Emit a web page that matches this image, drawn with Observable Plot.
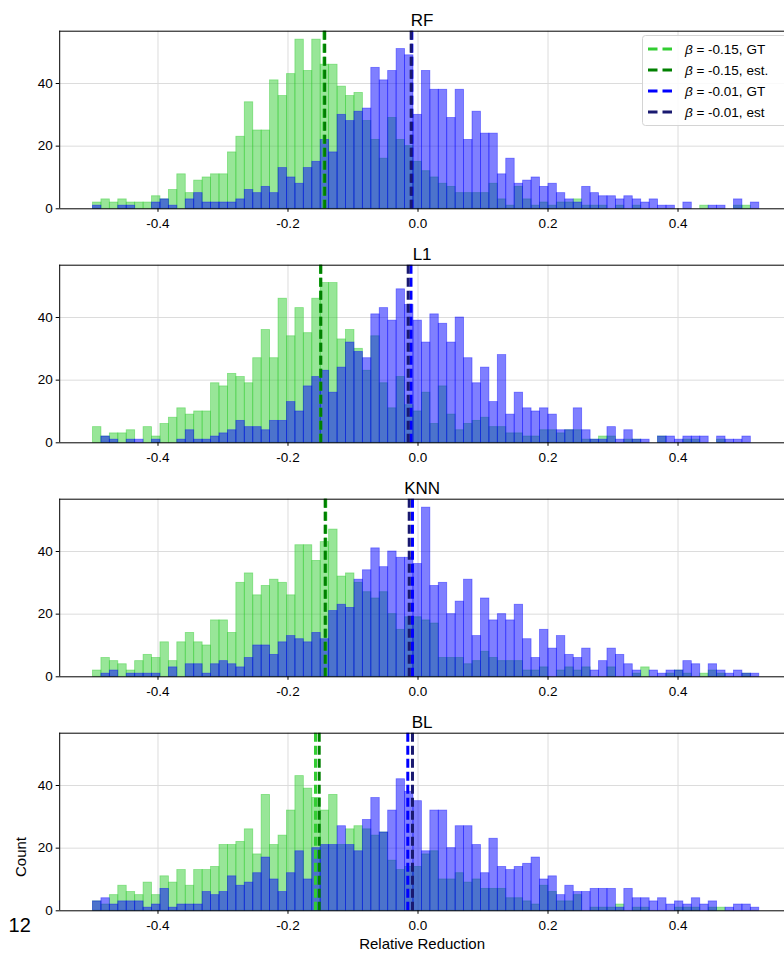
<!DOCTYPE html>
<html><head><meta charset="utf-8">
<script src="https://cdn.jsdelivr.net/npm/d3@7"></script>
<script src="https://cdn.jsdelivr.net/npm/@observablehq/plot@0.6"></script>
<style>
html,body{margin:0;padding:0;background:#fff;}
#chart{width:784px;height:954px;position:relative;overflow:hidden;background:#fff;}
#chart svg{display:block;}
</style></head><body><div id="chart"></div>
<script>
// ---- data ----
const panelNames = ["RF", "L1", "KNN", "BL"];
const binStart = -0.5, binEnd = 0.525, binCount = 79;
const xTicks = [-0.4, -0.2, 0, 0.2, 0.4];
const yTicks = [0, 20, 40];

const greenRF = [2,3,2,3,2,2,2,4,3,6, 11,5,9,10,11,11,18,23,34,25, 25,41,36,43,54,44,54,46,46,39, 36,37,28,22,16,29,22,20,15,12, 10,8,7,5,5,5,5,8,3,1, 7,3,1,2,1,2,2,3,1,1, 1,0,1,0,1,0,0,0,0,0, 0,0,1,0,0,0,1,1,0];
const blueRF  = [1,0,0,1,1,0,0,2,3,1, 0,3,5,2,2,2,2,3,6,5, 7,5,13,10,8,13,15,22,18,30, 28,31,32,45,41,44,51,49,30,44, 38,38,29,38,22,31,24,24,11,16, 8,9,10,7,8,5,3,2,7,5, 4,4,3,4,3,2,3,1,1,0, 2,0,0,1,1,0,3,0,2];

const greenL1 = [5,2,3,3,4,0,5,2,6,8, 11,9,10,10,19,18,22,21,19,27, 36,27,46,34,43,35,46,51,51,33, 36,30,23,34,19,11,21,12,10,16, 6,18,9,4,6,7,8,5,5,3, 3,2,2,4,4,3,4,4,1,1, 2,2,0,1,1,0,0,2,0,0, 1,1,0,0,1,0,0,0,0];
const blueL1  = [0,2,1,0,1,1,0,1,0,0, 1,4,1,1,2,3,4,7,5,5, 4,7,7,13,10,18,21,23,16,24, 32,29,27,41,43,39,49,44,39,32, 41,38,32,40,27,19,24,13,28,9, 16,11,10,11,9,4,4,11,4,1, 1,5,1,4,1,1,0,2,2,1, 2,2,2,0,2,1,1,2,0];

const greenKNN = [2,6,5,4,2,5,7,6,11,5, 11,14,11,10,18,18,14,30,33,26, 29,31,30,26,42,42,37,43,47,32, 33,30,27,25,27,20,15,19,19,18, 17,6,6,6,4,5,8,6,5,5, 5,2,2,3,0,2,3,2,3,0, 0,3,0,0,1,3,0,0,1,2, 1,0,1,2,1,0,0,1,0];
const blueKNN  = [0,1,2,0,1,1,1,1,0,3, 0,4,4,1,4,5,4,3,6,10, 10,7,11,13,12,11,14,12,21,23, 22,31,34,41,35,40,38,38,36,54, 29,30,20,24,31,13,25,18,20,18, 23,12,6,15,9,13,7,6,9,2, 5,9,7,4,2,0,2,1,2,2, 5,4,0,4,2,1,2,1,1];

const greenBL = [3,2,5,8,6,5,9,5,11,9, 13,8,13,13,14,21,21,22,26,18, 37,21,24,32,43,39,36,32,37,21, 26,27,26,24,25,16,13,14,14,18, 19,10,10,12,9,10,7,7,7,4, 4,3,2,8,6,3,3,5,0,1, 1,1,2,0,1,1,0,0,0,1, 1,1,0,1,1,0,0,0,0];
const blueBL  = [3,4,2,3,3,3,1,2,7,1, 2,2,2,6,5,6,11,8,9,12, 17,10,6,12,19,10,20,21,21,27, 21,19,29,36,25,32,42,38,35,19, 32,32,20,27,27,21,12,23,14,13, 14,15,17,10,11,5,8,6,6,7, 7,7,1,7,4,4,3,4,2,3, 2,4,2,3,0,1,2,2,1];

// vertical reference lines per panel (RF, L1, KNN, BL)
const gtGreenLine  = [-0.1445, -0.1500, -0.1420, -0.1577];
const estGreenLine = [-0.1435, -0.1495, -0.1428, -0.1520];
const gtBlueLine   = [-0.0095, -0.0108, -0.0085, -0.0157];
const estBlueLine  = [-0.0105, -0.0151, -0.0135, -0.0085];

const legendLabels = ["-0.15, GT", "-0.15, est.", "-0.01, GT", "-0.01, est"];
const xLabel = "Relative Reduction";
const yLabel = "Count";
const pageNumber = "12";

// ---- drawing ----
const greens = [greenRF, greenL1, greenKNN, greenBL];
const blues = [blueRF, blueL1, blueKNN, blueBL];
const lineColors = ["limegreen", "green", "blue", "midnightblue"];
const FONT = "'Liberation Sans', Arial, Helvetica, sans-serif";
const bw = (binEnd - binStart) / binCount;

function toBars(arr) {
  const out = [];
  arr.forEach((v, k) => { if (v > 0) out.push({x1: binStart + k * bw, x2: binStart + (k + 1) * bw, y: v}); });
  return out;
}

const chart = document.getElementById("chart");

panelNames.forEach((name, i) => {
  const last = i === panelNames.length - 1;
  const height = last ? 252 : 234;
  const mt = 30.7, ah = 177.6;
  const xDomain = [-0.5512, 0.5638];
  const yMax = 56.7;
  const dash = "9,4";
  const marks = [
    Plot.gridX(xTicks, {stroke: "#dcdcdc", strokeOpacity: 1, strokeWidth: 1}),
    Plot.gridY([20, 40], {stroke: "#dcdcdc", strokeOpacity: 1, strokeWidth: 1}),
    Plot.rectY(toBars(greens[i]), {x1: "x1", x2: "x2", y: "y", fill: "limegreen", fillOpacity: 0.5, stroke: "limegreen", strokeOpacity: 0.5, strokeWidth: 0.8, insetLeft: 0, insetRight: 0}),
    Plot.rectY(toBars(blues[i]), {x1: "x1", x2: "x2", y: "y", fill: "blue", fillOpacity: 0.5, stroke: "blue", strokeOpacity: 0.45, strokeWidth: 0.8, insetLeft: 0, insetRight: 0}),
    Plot.ruleX([gtGreenLine[i]], {stroke: lineColors[0], strokeWidth: 3, strokeDasharray: dash}),
    Plot.ruleX([estGreenLine[i]], {stroke: lineColors[1], strokeWidth: 3, strokeDasharray: dash}),
    Plot.ruleX([gtBlueLine[i]], {stroke: lineColors[2], strokeWidth: 3, strokeDasharray: dash}),
    Plot.ruleX([estBlueLine[i]], {stroke: lineColors[3], strokeWidth: 3, strokeDasharray: dash}),
    Plot.ruleY([0], {stroke: "black", strokeWidth: 1}),
    Plot.ruleY([yMax], {stroke: "black", strokeWidth: 1}),
    Plot.ruleX([xDomain[0]], {stroke: "black", strokeWidth: 1}),
    Plot.axisX(xTicks, {tickSize: 3.5, tickPadding: 6, tickFormat: d => d.toFixed(1), label: null, fontSize: 13.5}),
    Plot.axisY(yTicks, {tickSize: 3.5, tickPadding: 3.5, tickFormat: d => String(d), label: null, fontSize: 13.5}),
    Plot.text([name], {frameAnchor: "top", lineAnchor: "middle", dy: -10.5, fontSize: 17, fill: "black"})
  ];
  if (last) {
    marks.push(Plot.text([xLabel], {frameAnchor: "bottom", lineAnchor: "middle", dy: 33.7, fontSize: 15, fill: "black"}));
    marks.push(Plot.text([pageNumber], {frameAnchor: "bottom-left", dx: -40, dy: 15, textAnchor: "middle", lineAnchor: "middle", fontSize: 20, fill: "black"}));
  }
  const svg = Plot.plot({
    width: 784, height,
    marginTop: mt, marginBottom: height - mt - ah, marginLeft: 59.2, marginRight: 0,
    x: {domain: xDomain},
    y: {domain: [0, yMax]},
    style: {fontFamily: FONT, fontSize: "13px", color: "black", background: "white", overflow: "visible"},
    marks
  });
  chart.appendChild(svg);

  if (last) {
    d3.select(svg).append("text").attr("transform", "translate(21,155) rotate(-90)")
      .attr("text-anchor", "middle").attr("dy", "0.35em").attr("font-family", FONT)
      .attr("font-size", 15).attr("fill", "black").text(yLabel);
  }

  if (i === 0) {
    const lg = d3.select(svg).append("g").attr("font-family", FONT).attr("font-size", 13.5).attr("text-anchor", "start");
    lg.append("rect").attr("x", 642.5).attr("y", 35.5).attr("width", 160).attr("height", 90).attr("rx", 3)
      .attr("fill", "white").attr("fill-opacity", 0.85).attr("stroke", "#d4d4d4");
    legendLabels.forEach((t, j) => {
      const y = 49 + j * 21;
      lg.append("line").attr("x1", 648).attr("x2", 672).attr("y1", y).attr("y2", y)
        .attr("stroke", lineColors[j]).attr("stroke-width", 3).attr("stroke-dasharray", "9.5,5");
      const tx = lg.append("text").attr("x", 685).attr("y", y).attr("dy", "0.35em").attr("fill", "black").attr("text-anchor", "start");
      tx.append("tspan").attr("font-style", "italic").text("β");
      tx.append("tspan").text(" = " + t);
    });
  }
});
</script></body></html>
